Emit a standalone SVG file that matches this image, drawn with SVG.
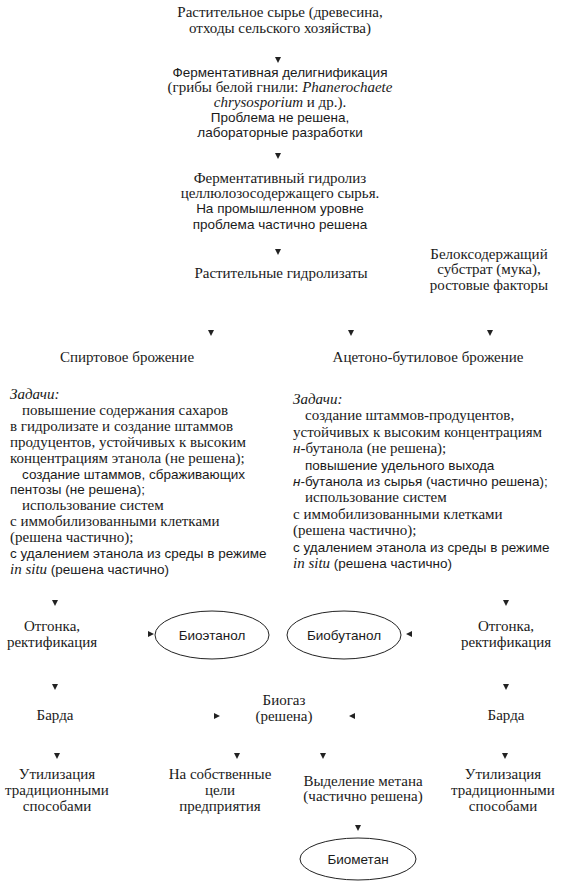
<svg xmlns="http://www.w3.org/2000/svg" width="561" height="893" viewBox="0 0 561 893">
<style>
text{font-family:"Liberation Serif","Times New Roman",serif;font-size:15px;fill:#1a1a1a}
.c{text-anchor:middle}
.s{font-family:"Liberation Sans",Arial,sans-serif;font-size:13.5px}
.i{font-style:italic}
.ah{fill:#222}
ellipse{fill:none;stroke:#222;stroke-width:1}
</style>
<rect width="561" height="893" fill="#fff"/>
<g id="connectors">
<polygon class="ah" points="275,57 281,57 278,63"/>
<polygon class="ah" points="275,153 281,153 278,159"/>
<polygon class="ah" points="275,249 281,249 278,255"/>
<polygon class="ah" points="208,330 214,330 211,336"/>
<polygon class="ah" points="348,330 354,330 351,336"/>
<polygon class="ah" points="487,330 493,330 490,336"/>
<polygon class="ah" points="52,600 58,600 55,606"/>
<polygon class="ah" points="503,600 509,600 506,606"/>
<polygon class="ah" points="148,631 148,637 154,634"/>
<polygon class="ah" points="412,631 412,637 406,634"/>
<polygon class="ah" points="52,684 58,684 55,690"/>
<polygon class="ah" points="503,684 509,684 506,690"/>
<polygon class="ah" points="214,713 214,719 220,716"/>
<polygon class="ah" points="355,713 355,719 349,716"/>
<polygon class="ah" points="54,753 60,753 57,759"/>
<polygon class="ah" points="234,753 240,753 237,759"/>
<polygon class="ah" points="320,753 326,753 323,759"/>
<polygon class="ah" points="502,753 508,753 505,759"/>
<polygon class="ah" points="355,825 361,825 358,831"/>
</g>
<g id="n-raw"><text class="c" x="280" y="17">Растительное сырье (древесина,</text><text class="c" x="280" y="33">отходы сельского хозяйства)</text></g>
<g id="n-delign">
<text class="c s" x="280" y="77">Ферментативная делигнификация</text>
<text class="c" x="280" y="92">(грибы белой гнили: <tspan class="i">Phanerochaete</tspan></text>
<text class="c" x="280" y="107"><tspan class="i">chrysosporium</tspan> и др.).</text>
<text class="c s" x="280" y="122">Проблема не решена,</text>
<text class="c s" x="280" y="137">лабораторные разработки</text>
</g>
<g id="n-hydrolysis">
<text class="c" x="280" y="183">Ферментативный гидролиз</text>
<text class="c" x="280" y="198">целлюлозосодержащего сырья.</text>
<text class="c s" x="280" y="213">На промышленном уровне</text>
<text class="c s" x="280" y="229">проблема частично решена</text>
</g>
<g id="n-hydrolysates"><text class="c" x="281" y="278">Растительные гидролизаты</text></g>
<g id="n-protein"><text class="c" x="489" y="259">Белоксодержащий</text><text class="c" x="489" y="274">субстрат (мука),</text><text class="c" x="489" y="290">ростовые факторы</text></g>
<g id="n-alcohol"><text class="c" x="127" y="362">Спиртовое брожение</text></g>
<g id="n-abe"><text class="c" x="428" y="362">Ацетоно-бутиловое брожение</text></g>
<g id="n-tasks-left">
<text class="i" x="10" y="399">Задачи:</text>
<text x="22" y="415">повышение содержания сахаров</text>
<text x="10" y="431">в гидролизате и создание штаммов</text>
<text x="10" y="447">продуцентов, устойчивых к высоким</text>
<text x="10" y="463">концентрациям этанола (не решена);</text>
<text class="s" x="22" y="479">создание штаммов, сбраживающих</text>
<text class="s" x="10" y="494">пентозы (не решена);</text>
<text x="22" y="510">использование систем</text>
<text x="10" y="526">с иммобилизованными клетками</text>
<text x="10" y="542">(решена частично);</text>
<text class="s" x="10" y="558">с удалением этанола из среды в режиме</text>
<text x="10" y="574"><tspan class="i">in situ</tspan> <tspan class="s">(решена частично)</tspan></text>
</g>
<g id="n-tasks-right">
<text class="i" x="293" y="404">Задачи:</text>
<text x="305" y="420">создание штаммов-продуцентов,</text>
<text x="293" y="437">устойчивых к высоким концентрациям</text>
<text x="293" y="453"><tspan class="i">н</tspan>-бутанола (не решена);</text>
<text class="s" x="305" y="470">повышение удельного выхода</text>
<text class="s" x="293" y="486"><tspan class="i">н</tspan>-бутанола из сырья (частично решена);</text>
<text x="305" y="502">использование систем</text>
<text x="293" y="519">с иммобилизованными клетками</text>
<text x="293" y="535">(решена частично);</text>
<text class="s" x="293" y="552">с удалением этанола из среды в режиме</text>
<text x="293" y="568"><tspan class="i">in situ</tspan> <tspan class="s">(решена частично)</tspan></text>
</g>
<g id="n-distill-left"><text class="c" x="52" y="631">Отгонка,</text><text class="c" x="52" y="647">ректификация</text></g>
<g id="n-distill-right"><text class="c" x="506" y="631">Отгонка,</text><text class="c" x="506" y="647">ректификация</text></g>
<g id="n-bioethanol"><ellipse cx="212" cy="635" rx="57" ry="24"/><text class="c s" x="212" y="640">Биоэтанол</text></g>
<g id="n-biobutanol"><ellipse cx="344" cy="635" rx="57" ry="24"/><text class="c s" x="344" y="640">Биобутанол</text></g>
<g id="n-barda-left"><text class="c" x="55" y="720">Барда</text></g>
<g id="n-barda-right"><text class="c" x="506" y="720">Барда</text></g>
<g id="n-biogas"><text class="c" x="284" y="705">Биогаз</text><text class="c" x="284" y="721">(решена)</text></g>
<g id="n-util-left"><text class="c" x="57" y="779">Утилизация</text><text class="c" x="57" y="795">традиционными</text><text class="c" x="57" y="811">способами</text></g>
<g id="n-own"><text class="c" x="220" y="779">На собственные</text><text class="c" x="220" y="795">цели</text><text class="c" x="220" y="811">предприятия</text></g>
<g id="n-methane"><text class="c" x="363" y="786">Выделение метана</text><text class="c" x="363" y="801">(частично решена)</text></g>
<g id="n-util-right"><text class="c" x="503" y="779">Утилизация</text><text class="c" x="503" y="795">традиционными</text><text class="c" x="503" y="811">способами</text></g>
<g id="n-biomethane"><ellipse cx="358" cy="859" rx="58" ry="21"/><text class="c s" x="358" y="864">Биометан</text></g>
</svg>
